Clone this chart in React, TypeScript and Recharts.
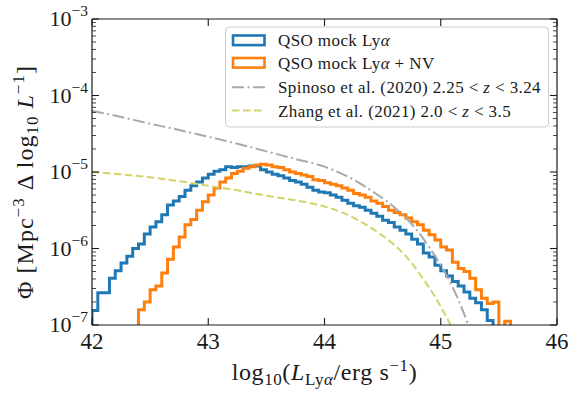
import React from 'react';
import { ComposedChart, Line, XAxis, YAxis } from 'recharts';

const FONT = '"Liberation Serif", "Times New Roman", serif';
const INK = '#1a1a1a';

// ---- data ----
const xTicks = [42, 43, 44, 45, 46];
const yMajorTicks = [1e-7, 1e-6, 1e-5, 1e-4, 1e-3];
const yMinorMultipliers = [2, 3, 4, 5, 6, 7, 8, 9];

// histogram bin edges (0.05 dex)
const blueEdges = [
  42.0, 42.05, 42.1, 42.15, 42.2, 42.25, 42.3, 42.35, 42.4, 42.45,
  42.5, 42.55, 42.6, 42.65, 42.7, 42.75, 42.8, 42.85, 42.9, 42.95,
  43.0, 43.05, 43.1, 43.15, 43.2, 43.25, 43.3, 43.35, 43.4, 43.45,
  43.5, 43.55, 43.6, 43.65, 43.7, 43.75, 43.8, 43.85, 43.9, 43.95,
  44.0, 44.05, 44.1, 44.15, 44.2, 44.25, 44.3, 44.35, 44.4, 44.45,
  44.5, 44.55, 44.6, 44.65, 44.7, 44.75, 44.8, 44.85, 44.9, 44.95,
  45.0, 45.05, 45.1, 45.15, 45.2, 45.25, 45.3, 45.35, 45.4, 45.45,
];
// log10(Phi) per bin, QSO mock Lya
const blueLogPhi = [
  -6.81, -6.58, -6.58, -6.39, -6.29, -6.19, -6.1, -6.0, -5.94, -5.81,
  -5.72, -5.65, -5.56, -5.43, -5.38, -5.32, -5.24, -5.18, -5.13, -5.08,
  -5.03, -4.99, -4.97, -4.93, -4.94, -4.93, -4.93, -4.92, -4.92, -4.97,
  -5.0, -5.03, -5.05, -5.08, -5.11, -5.13, -5.16, -5.2, -5.24, -5.26,
  -5.27, -5.3, -5.33, -5.37, -5.41, -5.44, -5.46, -5.5, -5.54, -5.58,
  -5.63, -5.66, -5.72, -5.76, -5.81, -5.88, -5.94, -6.06, -6.11, -6.22,
  -6.29, -6.36, -6.43, -6.49, -6.57, -6.65, -6.71, -6.8, -6.94,
];

const orangeEdges = [
  42.4, 42.45, 42.5, 42.55, 42.6, 42.65, 42.7, 42.75, 42.8, 42.85,
  42.9, 42.95, 43.0, 43.05, 43.1, 43.15, 43.2, 43.25, 43.3, 43.35,
  43.4, 43.45, 43.5, 43.55, 43.6, 43.65, 43.7, 43.75, 43.8, 43.85,
  43.9, 43.95, 44.0, 44.05, 44.1, 44.15, 44.2, 44.25, 44.3, 44.35,
  44.4, 44.45, 44.5, 44.55, 44.6, 44.65, 44.7, 44.75, 44.8, 44.85,
  44.9, 44.95, 45.0, 45.05, 45.1, 45.15, 45.2, 45.25, 45.3, 45.35,
  45.4, 45.45, 45.5, 45.55, 45.6,
];
// log10(Phi) per bin, QSO mock Lya + NV (null = empty bin)
const orangeLogPhi: (number | null)[] = [
  -6.8, -6.7, -6.54, -6.49, -6.32, -6.14, -5.98, -5.85, -5.69, -5.62,
  -5.5, -5.39, -5.3, -5.21, -5.13, -5.08, -5.02, -4.99, -4.95, -4.93,
  -4.91, -4.9, -4.91, -4.93, -4.94, -4.97, -5.0, -5.02, -5.04, -5.06,
  -5.1, -5.11, -5.14, -5.16, -5.18, -5.21, -5.24, -5.28, -5.3, -5.33,
  -5.38, -5.41, -5.45, -5.5, -5.53, -5.56, -5.6, -5.65, -5.69, -5.76,
  -5.82, -5.89, -5.98, -6.02, -6.18, -6.26, -6.3, -6.39, -6.54, -6.65,
  -6.72, -6.7, null, -6.95,
];

// Spinoso et al. (2020) LF
const spinosoLogL = [42.0, 42.25, 42.5, 42.75, 43.0, 43.25, 43.5, 43.75, 44.0, 44.2, 44.4, 44.6, 44.75, 44.9, 45.0, 45.1, 45.2, 45.26];
const spinosoLogPhi = [-4.2, -4.28, -4.37, -4.45, -4.54, -4.63, -4.73, -4.83, -4.93, -5.06, -5.24, -5.46, -5.68, -5.98, -6.22, -6.5, -6.85, -7.1];

// Zhang et al. (2021) LF
const zhangLogL = [42.0, 42.25, 42.5, 42.75, 43.0, 43.25, 43.5, 43.75, 44.0, 44.2, 44.4, 44.55, 44.7, 44.85, 44.95, 45.05, 45.12];
const zhangLogPhi = [-5.0, -5.03, -5.07, -5.12, -5.18, -5.24, -5.31, -5.37, -5.45, -5.56, -5.73, -5.89, -6.1, -6.4, -6.63, -6.9, -7.1];

// ---- build tables ----
const FLOOR = 1e-9;
function stepData(edges: number[], logs: (number | null)[]) {
  const pts: { x: number; y: number }[] = [{ x: edges[0], y: FLOOR }];
  logs.forEach((l, i) => pts.push({ x: edges[i], y: l === null ? FLOOR : Math.pow(10, l) }));
  pts.push({ x: edges[edges.length - 1], y: FLOOR });
  return pts;
}
function lineData(xs: number[], logs: number[]) {
  return xs.map((x, i) => ({ x, y: Math.pow(10, logs[i]) }));
}
const blueData = stepData(blueEdges, blueLogPhi);
const orangeData = stepData(orangeEdges, orangeLogPhi);
const spinosoData = lineData(spinosoLogL, spinosoLogPhi);
const zhangData = lineData(zhangLogL, zhangLogPhi);

const yTicks: number[] = [];
yMajorTicks.forEach((m, i) => {
  yTicks.push(m);
  if (i < yMajorTicks.length - 1) yMinorMultipliers.forEach((k) => yTicks.push(k * m));
});

const isMajor = (v: number) => {
  const e = Math.log10(v);
  return Math.abs(e - Math.round(e)) < 1e-6;
};

// ---- ticks ----
const BottomTick = (p: any) => {
  const { x, y, payload } = p;
  return (
    <g>
      <line x1={x} x2={x} y1={y} y2={y - 7} stroke={INK} strokeWidth={1.1} />
      <text x={x} y={y + 24} textAnchor="middle" fontFamily={FONT} fontSize={23} fill={INK}>
        {payload.value}
      </text>
    </g>
  );
};
const TopTick = (p: any) => {
  const { x, y } = p;
  return <line x1={x} x2={x} y1={y} y2={y + 7} stroke={INK} strokeWidth={1.1} />;
};
const LeftTick = (p: any) => {
  const { x, y, payload } = p;
  const v = payload.value;
  const major = isMajor(v);
  const e = Math.round(Math.log10(v));
  return (
    <g>
      <line x1={x} x2={x + (major ? 7 : 4)} y1={y} y2={y} stroke={INK} strokeWidth={major ? 1.1 : 0.8} />
      {major && (
        <text x={x - 4} y={y + 7} textAnchor="end" fontFamily={FONT} fontSize={22} fill={INK}>
          10
          <tspan dy={-10} fontSize={15.5}>{'\u2212' + Math.abs(e)}</tspan>
        </text>
      )}
    </g>
  );
};
const RightTick = (p: any) => {
  const { x, y, payload } = p;
  const major = isMajor(payload.value);
  return <line x1={x} x2={x - (major ? 7 : 4)} y1={y} y2={y} stroke={INK} strokeWidth={major ? 1.1 : 0.8} />;
};

const XLabel = (p: any) => {
  const vb = p.viewBox;
  const cx = vb.x + vb.width / 2;
  return (
    <text x={cx} y={vb.y + 55} textAnchor="middle" fontFamily={FONT} fontSize={24} letterSpacing={0.6} fill={INK}>
      log
      <tspan dy={5} fontSize={17}>10</tspan>
      <tspan dy={-5}>(</tspan>
      <tspan fontStyle="italic">L</tspan>
      <tspan dy={5} fontSize={17}>Ly</tspan>
      <tspan fontSize={17} fontStyle="italic">α</tspan>
      <tspan dy={-5}>/erg s</tspan>
      <tspan dy={-9} fontSize={17}>{'\u22121'}</tspan>
      <tspan dy={9}>)</tspan>
    </text>
  );
};
const YLabel = (p: any) => {
  const vb = p.viewBox;
  const cx = 33;
  const cy = vb.y + vb.height / 2 + 10;
  return (
    <text
      x={cx}
      y={cy}
      transform={`rotate(-90, ${cx}, ${cy})`}
      textAnchor="middle"
      fontFamily={FONT}
      fontSize={24}
      letterSpacing={1}
      fill={INK}
    >
      Φ [Mpc
      <tspan dy={-9} fontSize={17}>{'\u22123'}</tspan>
      <tspan dy={9}> Δ log</tspan>
      <tspan dy={5} fontSize={17}>10</tspan>
      <tspan dy={-5}> </tspan>
      <tspan fontStyle="italic">L</tspan>
      <tspan dy={-9} fontSize={17}>{'\u22121'}</tspan>
      <tspan dy={9}>]</tspan>
    </text>
  );
};

const legendItems = [
  { label: 'blue', cy: 40.3 },
  { label: 'orange', cy: 62.8 },
  { label: 'gray', cy: 87.3 },
  { label: 'yellow', cy: 110.5 },
];

const Legend = () => (
  <svg width={579} height={397} style={{ position: 'absolute', left: 0, top: 0, pointerEvents: 'none' }}>
    <rect x={225.5} y={27} width={323} height={100} rx={4} fill="#ffffff" fillOpacity={0.85} stroke="#cccccc" strokeWidth={1} />
    <rect x={233} y={legendItems[0].cy - 4.8} width={31.5} height={9.6} fill="none" stroke="#1f77b4" strokeWidth={2.6} />
    <rect x={233} y={legendItems[1].cy - 4.8} width={31.5} height={9.6} fill="none" stroke="#ff7f0e" strokeWidth={2.6} />
    <line x1={232} x2={265} y1={legendItems[2].cy} y2={legendItems[2].cy} stroke="#a9a9a9" strokeWidth={2} strokeDasharray="12 3.5 2 3.5" />
    <line x1={232} x2={265} y1={legendItems[3].cy} y2={legendItems[3].cy} stroke="#d3d36a" strokeWidth={2} strokeDasharray="7.5 3.5" />
    <g fontFamily={FONT} fontSize={17} letterSpacing={0.4} fill={INK}>
      <text x={278} y={legendItems[0].cy + 6}>
        QSO mock Ly<tspan fontStyle="italic">α</tspan>
      </text>
      <text x={278} y={legendItems[1].cy + 6}>
        QSO mock Ly<tspan fontStyle="italic">α</tspan> + NV
      </text>
      <text x={278} y={legendItems[2].cy + 6}>
        Spinoso et al. (2020) 2.25 &lt; <tspan fontStyle="italic">z</tspan> &lt; 3.24
      </text>
      <text x={278} y={legendItems[3].cy + 6}>
        Zhang et al. (2021) 2.0 &lt; <tspan fontStyle="italic">z</tspan> &lt; 3.5
      </text>
    </g>
  </svg>
);

export default function App() {
  return (
    <div style={{ position: 'relative', width: 579, height: 397, background: '#ffffff' }}>
      <style>{'body{margin:0;}'}</style>
      <ComposedChart width={579} height={397} margin={{ top: 0, right: 0, bottom: 0, left: 0 }}>
        <XAxis
          xAxisId="b"
          type="number"
          dataKey="x"
          domain={[42, 46]}
          ticks={xTicks}
          interval={0}
          allowDataOverflow
          height={72}
          tickSize={0}
          tickMargin={0}
          tickLine={false}
          axisLine={{ stroke: INK, strokeWidth: 1.2 }}
          tick={<BottomTick />}
          label={<XLabel />}
        />
        <XAxis
          xAxisId="t"
          orientation="top"
          type="number"
          dataKey="x"
          domain={[42, 46]}
          ticks={xTicks}
          interval={0}
          allowDataOverflow
          height={19}
          tickSize={0}
          tickMargin={0}
          tickLine={false}
          axisLine={{ stroke: INK, strokeWidth: 1.2 }}
          tick={<TopTick />}
        />
        <YAxis
          yAxisId="l"
          type="number"
          scale="log"
          domain={[1e-7, 1e-3]}
          ticks={yTicks}
          interval={0}
          allowDataOverflow
          width={92}
          tickSize={0}
          tickMargin={0}
          tickLine={false}
          axisLine={{ stroke: INK, strokeWidth: 1.2 }}
          tick={<LeftTick />}
          label={<YLabel />}
        />
        <YAxis
          yAxisId="r"
          orientation="right"
          type="number"
          scale="log"
          domain={[1e-7, 1e-3]}
          ticks={yTicks}
          interval={0}
          allowDataOverflow
          width={22}
          tickSize={0}
          tickMargin={0}
          tickLine={false}
          axisLine={{ stroke: INK, strokeWidth: 1.2 }}
          tick={<RightTick />}
        />
        <Line
          xAxisId="t"
          yAxisId="r"
          data={spinosoData}
          dataKey="y"
          stroke="none"
          dot={false}
          activeDot={false}
          isAnimationActive={false}
        />
        <Line
          xAxisId="b"
          yAxisId="l"
          data={blueData}
          dataKey="y"
          type="stepAfter"
          stroke="#1f77b4"
          strokeWidth={3}
          dot={false}
          activeDot={false}
          isAnimationActive={false}
        />
        <Line
          xAxisId="b"
          yAxisId="l"
          data={orangeData}
          dataKey="y"
          type="stepAfter"
          stroke="#ff7f0e"
          strokeWidth={3}
          dot={false}
          activeDot={false}
          isAnimationActive={false}
        />
        <Line
          xAxisId="b"
          yAxisId="l"
          data={spinosoData}
          dataKey="y"
          type="monotone"
          stroke="#a9a9a9"
          strokeWidth={2}
          strokeDasharray="12 3.5 2 3.5"
          dot={false}
          activeDot={false}
          isAnimationActive={false}
        />
        <Line
          xAxisId="b"
          yAxisId="l"
          data={zhangData}
          dataKey="y"
          type="monotone"
          stroke="#d3d36a"
          strokeWidth={2}
          strokeDasharray="7.5 3.5"
          dot={false}
          activeDot={false}
          isAnimationActive={false}
        />
      </ComposedChart>
      <Legend />
    </div>
  );
}
